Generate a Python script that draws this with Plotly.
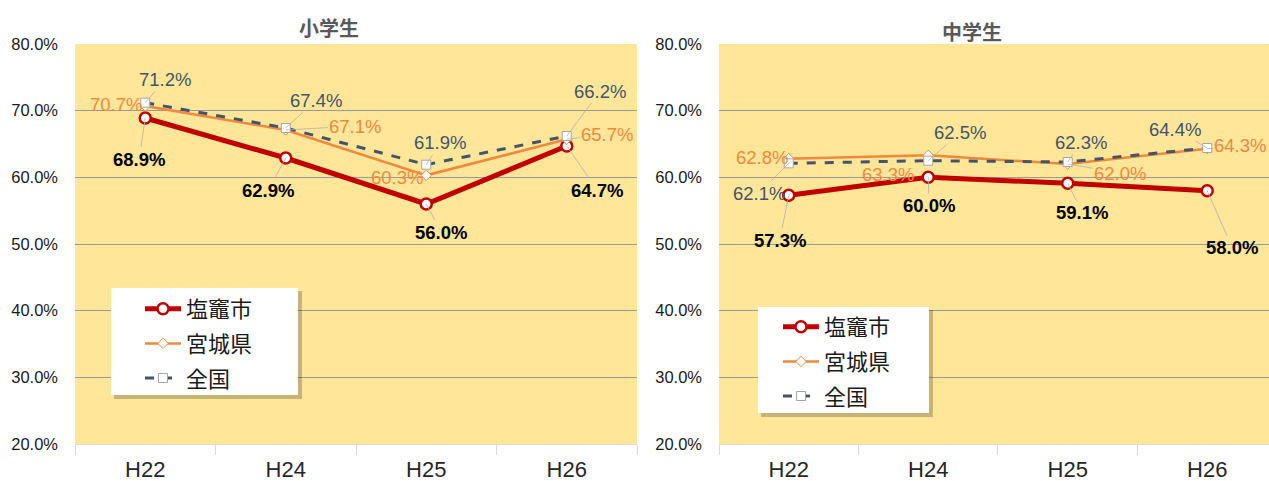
import plotly.graph_objects as go

# ---------------- data ----------------
categories = ["H22", "H24", "H25", "H26"]
series_names = ["塩竈市", "宮城県", "全国"]
chart_titles = ["小学生", "中学生"]

elem_shiogama = [68.9, 62.9, 56.0, 64.7]
elem_miyagi = [70.7, 67.1, 60.3, 65.7]
elem_national = [71.2, 67.4, 61.9, 66.2]

jhs_shiogama = [57.3, 60.0, 59.1, 58.0]
jhs_miyagi = [62.8, 63.3, 62.0, 64.3]
jhs_national = [62.1, 62.5, 62.3, 64.4]

y_tick_values = [20, 30, 40, 50, 60, 70, 80]
y_tick_labels = ["20.0%", "30.0%", "40.0%", "50.0%", "60.0%", "70.0%", "80.0%"]

# ---------------- styles ----------------
W, H = 1269, 481
ML, MR, MT, MB = 0, 0, 44, 37
FONT = "Liberation Sans, Arial, Noto Sans CJK JP, sans-serif"
JFONT = "Noto Sans CJK JP, sans-serif"

RED = "#C00000"
ORANGE = "#F0883E"
SLATE = "#44546A"

styles = {
    "塩竈市": dict(line=dict(color=RED, width=5),
                 marker=dict(symbol="circle", size=11, color="white",
                             line=dict(color=RED, width=2.5))),
    "宮城県": dict(line=dict(color=ORANGE, width=2.5),
                 marker=dict(symbol="diamond", size=8, color="white",
                             line=dict(color=ORANGE, width=1))),
    "全国": dict(line=dict(color=SLATE, width=3, dash="dash"),
               marker=dict(symbol="square", size=9, color="white",
                           line=dict(color="#A6A6A6", width=1))),
}
label_fonts = {
    "塩竈市": dict(family=FONT, size=18.5, color="#000000"),
    "宮城県": dict(family=FONT, size=18.5, color=ORANGE),
    "全国": dict(family=FONT, size=18.5, color=SLATE),
}
label_bold = {"塩竈市": True, "宮城県": False, "全国": False}

# label offsets (pixels from the point) and whether a leader line is drawn
offsets_left = {
    "塩竈市": [(-6, 41, True), (-17.5, 32, True), (15, 28, True), (30.5, 44, True)],
    "宮城県": [(-29, -2, False), (69.5, -4, True), (-29, 2, False), (40.5, -5, True)],
    "全国": [(20, -23, True), (30.5, -28, True), (14, -22, True), (33.5, -45, True)],
}
offsets_right = {
    "塩竈市": [(-9, 45, True), (1, 28, True), (14.5, 29, True), (25, 57, True)],
    "宮城県": [(-27, -1, False), (-40, 19, False), (52.5, 9, True), (33, -3, True)],
    "全国": [(-30, 30, True), (32, -28, True), (13.5, -20, True), (-32, -19, True)],
}

charts = [
    dict(data=[elem_shiogama, elem_miyagi, elem_national], xa="x", ya="y",
         legend="legend", offsets=offsets_left),
    dict(data=[jhs_shiogama, jhs_miyagi, jhs_national], xa="x2", ya="y2",
         legend="legend2", offsets=offsets_right),
]

fig = go.Figure()
annotations = []
for ci, ch in enumerate(charts):
    for name, vals in zip(series_names, ch["data"]):
        st = styles[name]
        fig.add_trace(go.Scatter(
            x=categories, y=vals, name=name, mode="lines+markers",
            line=st["line"], marker=st["marker"],
            xaxis=ch["xa"], yaxis=ch["ya"], legend=ch["legend"],
            legendgroup=f"{ci}-{name}", hoverinfo="skip",
        ))
        for cat, v, (ax, ay, arrow) in zip(categories, vals, ch["offsets"][name]):
            txt = f"{v:.1f}%"
            if label_bold[name]:
                txt = f"<b>{txt}</b>"
            a = dict(x=cat, y=v, xref=ch["xa"], yref=ch["ya"], text=txt,
                     font=label_fonts[name])
            if arrow:
                a.update(showarrow=True, ax=ax, ay=ay, arrowhead=0,
                         arrowwidth=0.8, arrowcolor="#B0B0B0", standoff=0)
            else:
                a.update(showarrow=False, xshift=ax, yshift=-ay)
            annotations.append(a)

def px_x(p):
    return (p - ML) / (W - ML - MR)

def px_y(p):
    return (H - MB - p) / (H - MT - MB)

# titles
for t, (tx, ty) in zip(chart_titles, [(329, 28), (972, 31)]):
    annotations.append(dict(x=px_x(tx), y=px_y(ty), xref="paper", yref="paper",
                            xanchor="center", yanchor="middle",
                            text=f"<b>{t}</b>", showarrow=False,
                            font=dict(family=JFONT, size=20, color="#595959")))

# legend boxes with shadow
shapes = []
for (x0, y0, x1, y1) in [(111, 288, 298, 395), (758, 307, 929, 413)]:
    shapes.append(dict(type="rect", xref="paper", yref="paper",
                       x0=px_x(x0 + 3), x1=px_x(x1 + 4), y0=px_y(y1 + 4), y1=px_y(y0 + 3),
                       fillcolor="rgba(0,0,0,0.22)", line=dict(width=0), layer="above"))
    shapes.append(dict(type="rect", xref="paper", yref="paper",
                       x0=px_x(x0), x1=px_x(x1), y0=px_y(y1), y1=px_y(y0),
                       fillcolor="white", line=dict(width=0), layer="above"))

xcommon = dict(type="category", showgrid=False, ticks="outside", tickson="boundaries",
               ticklen=10, tickcolor="#D9D9D9", showline=True, linecolor="#D9D9D9",
               tickfont=dict(family=FONT, size=22, color="#262626"),
               ticklabelstandoff=6, zeroline=False, fixedrange=True)
ycommon = dict(range=[20, 80], tickvals=y_tick_values, ticktext=y_tick_labels,
               showgrid=True, gridcolor="#9A9A9A", gridwidth=1, zeroline=False,
               showline=False, ticks="", ticklabelstandoff=16,
               tickfont=dict(family=FONT, size=16.5, color="#1a1a1a"), fixedrange=True)

legcommon = dict(xanchor="left", yanchor="top", bgcolor="rgba(0,0,0,0)",
                 borderwidth=0, font=dict(family=JFONT, size=22, color="#1a1a1a"),
                 itemwidth=36, tracegroupgap=3, traceorder="grouped")

fig.update_layout(
    width=W, height=H,
    margin=dict(l=ML, r=MR, t=MT, b=MB, pad=0),
    paper_bgcolor="white", plot_bgcolor="#FFE699",
    xaxis=dict(domain=[px_x(75), px_x(637)], range=[-0.5, 3.5], anchor="y", **xcommon),
    yaxis=dict(domain=[0, 1], anchor="x", **ycommon),
    xaxis2=dict(domain=[px_x(719), 1.0], range=[-0.5, 3.443], anchor="y2", **xcommon),
    yaxis2=dict(domain=[0, 1], anchor="x2", **ycommon),
    legend=dict(x=px_x(140), y=px_y(288), **legcommon),
    legend2=dict(x=px_x(778), y=px_y(306), **legcommon),
    annotations=annotations,
    shapes=shapes,
    showlegend=True,
)

fig.write_html("out.html")
